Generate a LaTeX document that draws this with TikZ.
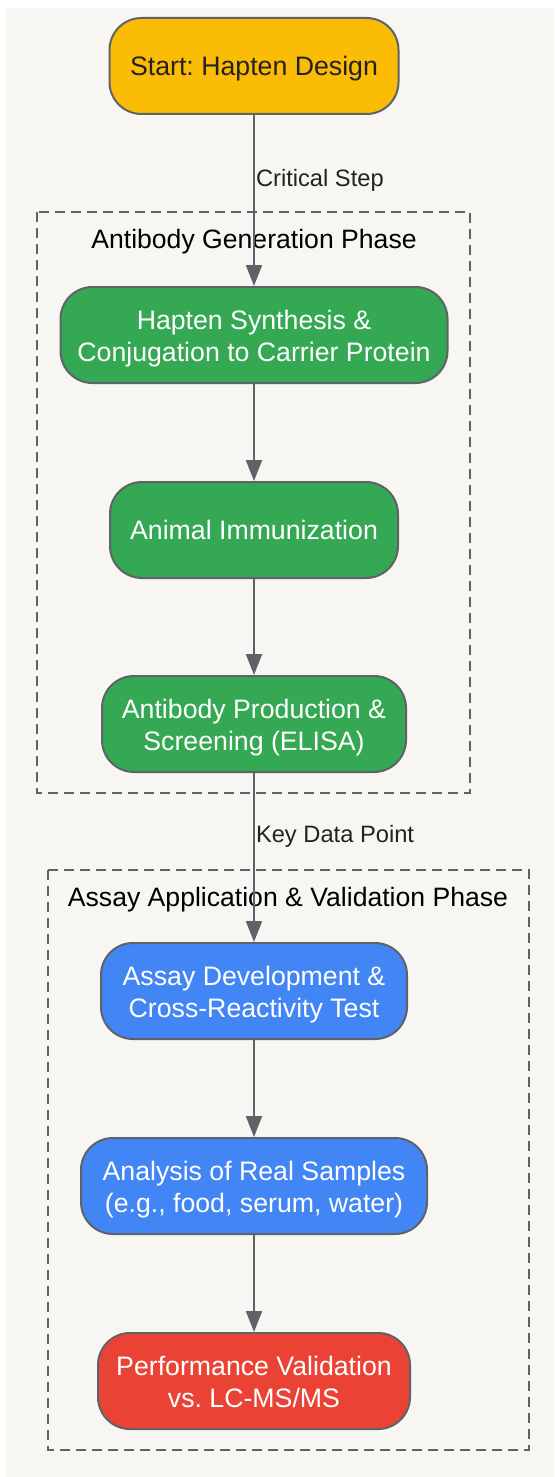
\documentclass[tikz,border=0pt]{standalone}
\usepackage{fontspec}
\setmainfont{Liberation Sans}
\usepackage{tikz}
\usetikzlibrary{arrows.meta}
\frenchspacing

\definecolor{bgcol}{HTML}{F7F6F2}
\definecolor{edgecol}{HTML}{5F6368}
\definecolor{inkcol}{HTML}{222222}
\definecolor{startcol}{HTML}{FBBC05}
\definecolor{gencol}{HTML}{34A853}
\definecolor{assaycol}{HTML}{4285F4}
\definecolor{validcol}{HTML}{EA4335}

\tikzset{
  stepbox/.style={draw=edgecol, line width=2pt, rounded corners=32pt,
    minimum height=96pt, inner sep=0pt},
  steptext/.style={align=center, text=white, yshift=-3.5pt, inner sep=0pt,
    font=\fontsize{26.7}{31.5}\selectfont},
  phasebox/.style={draw=edgecol, line width=2pt, dash pattern=on 10pt off 6pt},
  phasetitle/.style={font=\fontsize{26.6}{32}\selectfont, text=black},
  flow/.style={draw=edgecol, line width=2pt, -{Triangle[length=21pt,width=16pt]}},
  edgelabel/.style={font=\fontsize{23.7}{28}\selectfont, text=inkcol, anchor=west,
    inner sep=1pt, yshift=-2.5pt}
}

\begin{document}
\begin{tikzpicture}[x=1pt, y=-1pt]
  \useasboundingbox (0,0) rectangle (554,1477);
  \fill[bgcol] (6,8) rectangle (554,1477);

  \draw[phasebox] (37,212) rectangle (470,793);
  \draw[phasebox] (48,870) rectangle (529,1450);
  \node[phasetitle] (gentitle) at (254,242) {Antibody Generation Phase};
  \node[phasetitle] (assaytitle) at (288,899.5) {Assay Application \& Validation Phase};

  \node[stepbox, fill=startcol, minimum width=289pt,
    label={[steptext, text=inkcol]center:\strut Start: Hapten Design}] (start) at (254,66) {};
  \node[stepbox, fill=gencol, minimum width=387pt,
    label={[steptext]center:{Hapten Synthesis \&\\Conjugation to Carrier Protein}}] (synth) at (254,335) {};
  \node[stepbox, fill=gencol, minimum width=288pt,
    label={[steptext]center:\strut Animal Immunization}] (immun) at (254,530) {};
  \node[stepbox, fill=gencol, minimum width=304pt,
    label={[steptext]center:{Antibody Production \&\\Screening (ELISA)}}] (prod) at (254,724) {};
  \node[stepbox, fill=assaycol, minimum width=306pt,
    label={[steptext]center:{Assay Development \&\\Cross-Reactivity Test}}] (assay) at (254,991) {};
  \node[stepbox, fill=assaycol, minimum width=346pt,
    label={[steptext]center:{Analysis of Real Samples\\(e.g., food, serum, water)}}] (analysis) at (254,1186) {};
  \node[stepbox, fill=validcol, minimum width=312pt,
    label={[steptext]center:{Performance Validation\\vs. LC-MS/MS\vphantom{y}}}] (valid) at (254,1381) {};

  \draw[flow] (start) -- node[edgelabel, pos=0.37] {Critical Step} (synth);
  \draw[flow] (prod) -- node[edgelabel, pos=0.36] {Key Data Point} (assay);
  \foreach \a/\b in {synth/immun, immun/prod, assay/analysis, analysis/valid}
    \draw[flow] (\a) -- (\b);
\end{tikzpicture}
\end{document}
